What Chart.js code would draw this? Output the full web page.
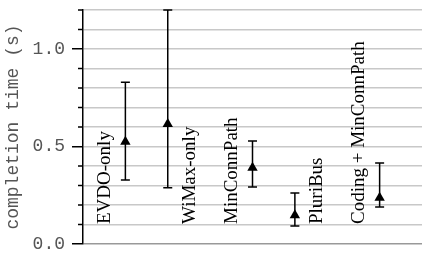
<!DOCTYPE html>
<html>
<head>
<meta charset="utf-8">
<script src="https://cdn.jsdelivr.net/npm/chart.js@4.4.0/dist/chart.umd.min.js"></script>
<style>
    body { margin: 0; background: #ffffff; }
    canvas { display: block; }
</style>
</head>
<body>
<canvas id="chart" width="428" height="253"></canvas>
<script>
// Data
let methods = ['EVDO-only', 'WiMax-only', 'MinConnPath', 'PluriBus', 'Coding + MinConnPath'];
let slots = [1, 2, 4, 5, 7];
let labelSide = [-0.5, 0.5, -0.5, 0.5, -0.5];
let meanTime = [0.524, 0.616, 0.391, 0.147, 0.237];
let highTime = [0.83, 1.2, 0.528, 0.262, 0.415];
let lowTime = [0.328, 0.289, 0.292, 0.092, 0.19];
let majorTicks = [0, 0.5, 1.0];

let points = [];
for (let i = 0; i < methods.length; i++) {
    points.push({ x: slots[i], y: meanTime[i] });
}

function isMajor(v) {
    return majorTicks.some(m => Math.abs(v - m) < 1e-9);
}

/* ------------------------------ Error bars ------------------------------ */
const errorBars = {
    id: 'errorBars',
    beforeDatasetsDraw(chart) {
        let ctx = chart.ctx;
        let xs = chart.scales.x, ys = chart.scales.y;
        ctx.save();
        ctx.strokeStyle = '#000000';
        ctx.lineWidth = 1.5;
        for (let i = 0; i < methods.length; i++) {
            let x = xs.getPixelForValue(slots[i]);
            let top = ys.getPixelForValue(highTime[i]);
            let bot = ys.getPixelForValue(lowTime[i]);
            ctx.beginPath();
            ctx.moveTo(x, top); ctx.lineTo(x, bot);
            ctx.moveTo(x - 4.5, top); ctx.lineTo(x + 4.5, top);
            ctx.moveTo(x - 4.5, bot); ctx.lineTo(x + 4.5, bot);
            ctx.stroke();
        }
        ctx.restore();
    }
};

/* ------------------------- Method names and ticks ------------------------ */
const extras = {
    id: 'extras',
    afterDraw(chart) {
        let ctx = chart.ctx;
        let xs = chart.scales.x, ys = chart.scales.y;
        let area = chart.chartArea;
        ctx.save();
        // minor ticks
        ctx.strokeStyle = '#000000';
        ctx.lineWidth = 1.5;
        for (let t of ys.ticks) {
            if (isMajor(t.value)) continue;
            let y = ys.getPixelForValue(t.value);
            ctx.beginPath();
            ctx.moveTo(area.left - 5, y);
            ctx.lineTo(area.left, y);
            ctx.stroke();
        }
        // rotated method names
        ctx.fillStyle = '#000000';
        ctx.font = '19px "Liberation Serif"';
        ctx.textAlign = 'left';
        ctx.textBaseline = 'middle';
        for (let i = 0; i < methods.length; i++) {
            let x = xs.getPixelForValue(slots[i] + labelSide[i]);
            ctx.save();
            ctx.translate(x + 1, area.bottom - 20);
            ctx.rotate(-Math.PI / 2);
            ctx.fillText(methods[i], 0, 0);
            ctx.restore();
        }
        ctx.restore();
    }
};

/* ------------------------------ Create chart ------------------------------ */
var graphArea = document.getElementById('chart').getContext('2d');
let myChart = new Chart(graphArea, {
    type: 'scatter',
    data: {
        datasets: [{
            data: points,
            pointStyle: 'triangle',
            pointRadius: 6,
            backgroundColor: '#000000',
            borderColor: '#000000',
            borderWidth: 0
        }]
    },
    options: {
        responsive: false,
        animation: false,
        devicePixelRatio: 1,
        layout: { padding: { top: 10, bottom: 9, right: 0, left: 0 } },
        plugins: {
            legend: { display: false },
            tooltip: { enabled: false }
        },
        scales: {
            x: {
                type: 'linear',
                min: 0,
                max: 8,
                display: false
            },
            y: {
                min: 0,
                max: 1.2,
                afterFit(scale) {
                    scale.width = 83;
                    scale.paddingTop = 0;
                    scale.paddingBottom = 0;
                },
                border: { display: true, color: '#000000', width: 1.5 },
                grid: {
                    color: c => c.tick && c.tick.value === 0 ? '#999999' : '#c8c8c8',
                    lineWidth: 1.5,
                    tickLength: 11,
                    tickWidth: 1.5,
                    tickColor: c => isMajor(c.tick.value) ? '#000000' : 'rgba(0,0,0,0)'
                },
                ticks: {
                    stepSize: 0.1,
                    autoSkip: false,
                    padding: 7,
                    color: '#555555',
                    font: { family: 'Liberation Mono', size: 18 },
                    callback: v => isMajor(v) ? v.toFixed(1) : ''
                },
                title: {
                    display: true,
                    text: 'completion time (s)',
                    color: '#555555',
                    font: { family: 'Liberation Mono', size: 18 },
                    padding: { top: 2, bottom: 0 }
                }
            }
        }
    },
    plugins: [errorBars, extras]
});
</script>
</body>
</html>
